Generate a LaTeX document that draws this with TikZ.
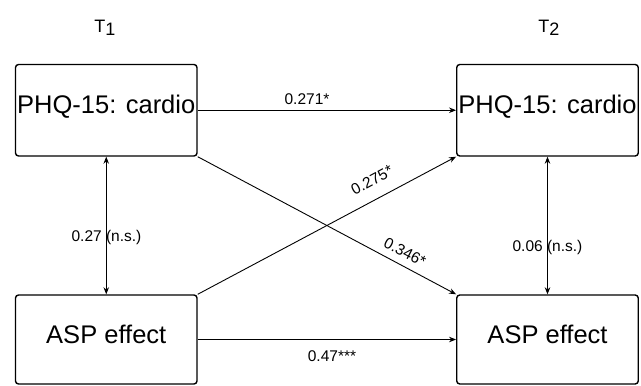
\documentclass[tikz,border=0pt]{standalone}
\usepackage{fontspec}
\setmainfont{Liberation Sans}
\usetikzlibrary{arrows.meta}
\tikzset{
  varbox/.style={draw=black, line width=1.4pt, rounded corners=3pt, rectangle,
    inner sep=0pt, minimum width=181.5pt, font=\fontsize{25.5}{28}\selectfont,
    text height=0.716em, text depth=0pt},
  topbox/.style={varbox, minimum height=91.5pt},
  botbox/.style={varbox, minimum height=89pt},
  path arrow/.style={draw=black, line width=0.9pt, -{Stealth[length=7pt,width=5.5pt]}},
  corr arrow/.style={draw=black, line width=0.9pt, {Stealth[length=7pt,width=5.5pt]}-{Stealth[length=7pt,width=5.5pt]}},
  coef/.style={inner sep=0pt, font=\fontsize{15.5}{17}\selectfont},
  timelabel/.style={inner sep=0pt, font=\fontsize{18}{20}\selectfont}
}
\begin{document}
\begin{tikzpicture}[x=1pt,y=-1pt]
\useasboundingbox[fill=white] (0,0) rectangle (641,386);
\node[timelabel] (t1) at (105,28) {T\raisebox{-3.5pt}{1}};
\node[timelabel] (t2) at (549,28) {T\raisebox{-3.5pt}{2}};
\node[topbox] (tl) at (106.25,110.25) {PHQ-15: cardio};
\node[topbox] (tr) at (547.5,110.25) {PHQ-15: cardio};
\node[botbox] (bl) at (106.25,339.5) {ASP effect};
\node[botbox] (br) at (547.5,339.5) {ASP effect};
\draw[path arrow] (tl.east) -- (tr.west);
\draw[path arrow] (bl.east) -- (br.west);
\draw[path arrow] (tl.south east) -- (br.north west);
\draw[path arrow] (bl.north east) -- (tr.south west);
\draw[corr arrow] (tl.south) -- (bl.north);
\draw[corr arrow] (tr.south) -- (br.north);
\node[coef] (c1) at (307,99) {0.271*};
\node[coef] (c2) at (332,356) {0.47***};
\node[coef] (c3) at (106.5,237) {0.27 (n.s.)};
\node[coef] (c4) at (547.5,247) {0.06 (n.s.)};
\node[coef, rotate=28.1] (c5) at (372,180) {0.275*};
\node[coef, rotate=-27.4] (c6) at (405,252) {0.346*};
\end{tikzpicture}
\end{document}
